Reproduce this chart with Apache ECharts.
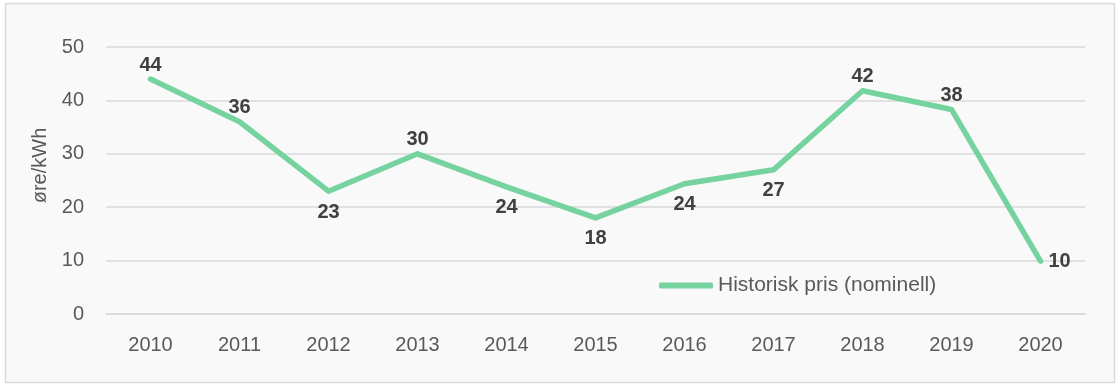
<!DOCTYPE html>
<html><head><meta charset="utf-8">
<script src="https://cdn.jsdelivr.net/npm/echarts@6/dist/echarts.min.js"></script>
<style>html,body{margin:0;padding:0;background:#fff}#c{width:1120px;height:388px}</style>
</head><body><div id="c"></div>
<script>
const years = ['2010','2011','2012','2013','2014','2015','2016','2017','2018','2019','2020'];
const prices = [44, 36, 23, 30, 23.8, 18, 24.4, 27, 41.8, 38.3, 9.9];
const labelPlacement = ['top','top','bottom','top','bottom','bottom','bottom','bottom','top','top','right'];
const seriesName = 'Historisk pris (nominell)';
const yAxisName = 'øre/kWh';

const font = 'Liberation Sans';
const labelDistance = {top: 4, bottom: 11, right: 8};
const chart = echarts.init(document.getElementById('c'));
chart.setOption({
  animation: false,
  backgroundColor: '#fff',
  graphic: [{type:'rect', shape:{x:5.5,y:3.5,width:1109,height:379}, style:{fill:'#f9f9f9', stroke:'#d9d9d9', lineWidth:1.5}, z:-10}],
  grid: {left: 106, right: 35, top: 47, bottom: 74},
  legend: {
    data:[seriesName], left: 654, top: 270, itemWidth: 54, itemHeight: 6, itemGap: 4,
    icon: 'roundRect',
    textStyle: {fontFamily: font, fontSize: 21, color: '#595959'}
  },
  xAxis: {
    type: 'category', data: years, boundaryGap: true,
    axisLine: {lineStyle:{color:'#d9d9d9', width:1.5}}, axisTick:{show:false},
    axisLabel: {fontFamily: font, fontSize: 20, color: '#595959', margin: 21}
  },
  yAxis: {
    type: 'value', min: 0, max: 50, interval: 10,
    name: yAxisName, nameLocation: 'middle', nameGap: 56, nameRotate: 90,
    nameTextStyle: {fontFamily: font, fontSize: 20, color: '#595959', padding:[0,0,0,30]},
    axisLine:{show:false}, axisTick:{show:false},
    splitLine: {lineStyle:{color:'#d9d9d9', width:1.5}},
    axisLabel: {fontFamily: font, fontSize: 20, color: '#595959', margin: 22}
  },
  series: [{
    name: seriesName, type: 'line', showSymbol: true, symbol:'circle', symbolSize: 0,
    lineStyle: {color:'#76d3a0', width: 5.5, cap:'round', join:'round'},
    itemStyle: {color:'#76d3a0'},
    data: prices.map((v,i)=>({value:v, label:{position: labelPlacement[i], distance: labelDistance[labelPlacement[i]]}})),
    label: {show: true, formatter: p => String(Math.round(p.value)), fontFamily: font, fontWeight:'bold', fontSize: 20, color:'#404040'}
  }]
});
</script></body></html>
